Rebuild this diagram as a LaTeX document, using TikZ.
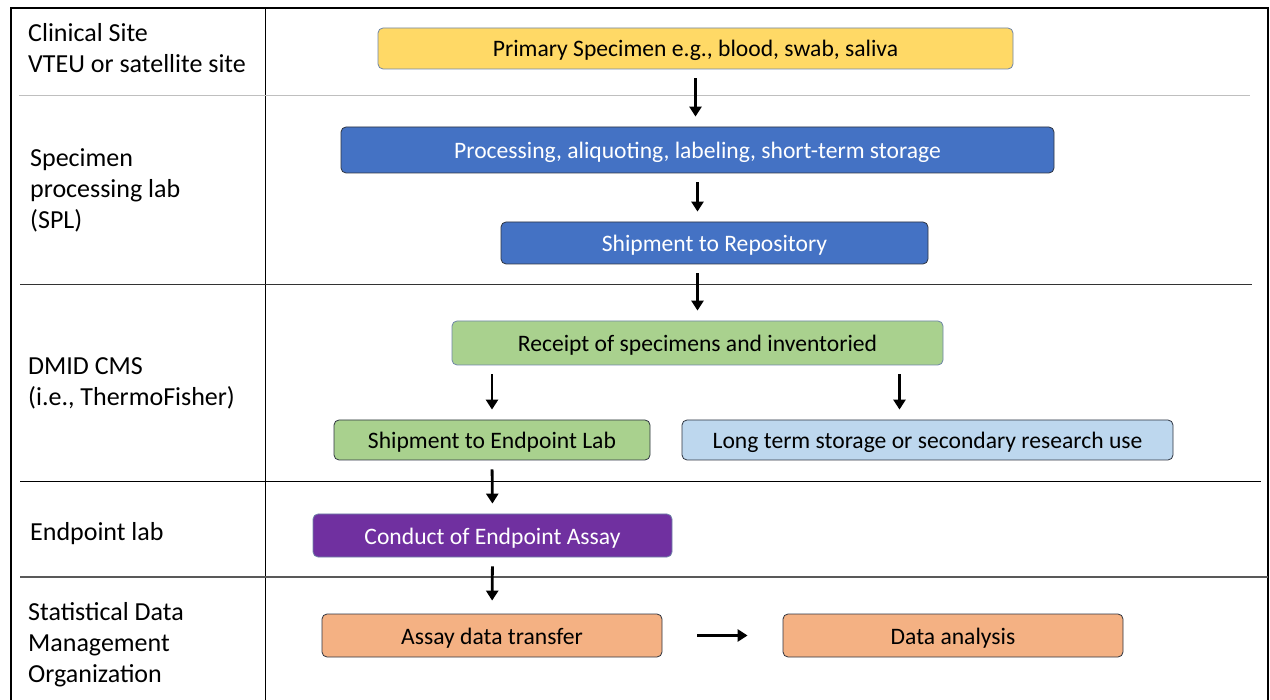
\documentclass[tikz,border=0pt]{standalone}
\usepackage{fontspec}
\setmainfont{Carlito}
\usepackage{xcolor}
\definecolor{specyellow}{HTML}{FFD966}
\definecolor{splblue}{HTML}{4472C4}
\definecolor{cmsgreen}{HTML}{A9D18E}
\definecolor{storeblue}{HTML}{BDD7EE}
\definecolor{labpurple}{HTML}{7030A0}
\definecolor{sdmcorange}{HTML}{F4B183}
\definecolor{edgeblue}{HTML}{6F86A8}
\definecolor{edgedark}{HTML}{2E3440}
\usetikzlibrary{arrows.meta, positioning}

\begin{document}
\begin{tikzpicture}[x=1pt, y=-1pt,
    box/.style={draw=edgedark, rounded corners=5pt, line width=0.8pt, inner sep=0pt,
                text height=19pt, text depth=2pt,
                font=\fontsize{23.6}{28}\selectfont},
    flow/.style={-{Triangle[width=12pt,length=10pt]}, line width=2.8pt,
                 shorten <=9pt, shorten >=10pt},
    lane/.style={align=left, anchor=base west, inner sep=0pt,
                 font=\fontsize{26}{31}\selectfont}]
  \useasboundingbox (0,0) rectangle (1270,700);

  % Frame and swimlanes
  \draw[line width=2pt] (11,700) -- (11,8) -- (1268,8) -- (1268,700);
  \draw[line width=1pt] (265,8) -- (265,700);
  \draw[black!25, line width=1pt] (19,96) -- (1250,96);
  \draw[black!80, line width=1pt] (20,285) -- (1252,285);
  \draw[line width=1pt] (20,482) -- (1261,482);
  \draw[black!65, line width=1.6pt] (20,577) -- (1268,577);

  % Lane names (placed by the baseline of the last line)
  \node[lane] (site) at (28,73) {Clinical Site\\VTEU or satellite site};
  \node[lane] (spl) at (30,229) {Specimen\\processing lab\\(SPL)};
  \node[lane] (cms) at (28,406) {DMID CMS\\(i.e., ThermoFisher)};
  \node[lane] (elab) at (30,540) {Endpoint lab};
  \node[lane] (sdmc) at (28,682) {Statistical Data\\Management\\Organization};

  % Steps
  \node[box, draw=edgeblue, fill=specyellow, minimum width=635pt, minimum height=41pt]
    (primary) at (695.5,48.5) {Primary Specimen e.g., blood, swab, saliva};
  \node[box, fill=splblue, text=white, minimum width=713pt, minimum height=46pt]
    (process) at (697.5,150) {Processing, aliquoting, labeling, short-term storage};
  \node[box, fill=splblue, text=white, minimum width=427pt, minimum height=42pt]
    (shiprepo) at (714.5,243) {Shipment to Repository};
  \node[box, draw=edgeblue, fill=cmsgreen, minimum width=491pt, minimum height=44pt]
    (receipt) at (697.5,343) {Receipt of specimens and inventoried};
  \node[box, fill=cmsgreen, minimum width=316pt, minimum height=40pt]
    (shipep) at (492,440) {Shipment to Endpoint Lab};
  \node[box, fill=storeblue, minimum width=491pt, minimum height=40pt]
    (storage) at (927.5,440) {Long term storage or secondary research use};
  \node[box, draw=edgeblue, fill=labpurple, text=white, minimum width=359pt, minimum height=43pt]
    (assay) at (492.5,535.5) {Conduct of Endpoint Assay};
  \node[box, fill=sdmcorange, minimum width=340pt, minimum height=43pt]
    (transfer) at (492,635.5) {Assay data transfer};
  \node[box, fill=sdmcorange, minimum width=340pt, minimum height=43pt]
    (analysis) at (953,635.5) {Data analysis};

  % Arrows
  \draw[flow] (primary.south) -- (primary.south |- process.north);
  \draw[flow] (process.south) -- (process.south |- shiprepo.north);
  \draw[flow] (receipt.north |- shiprepo.south) -- (receipt.north);
  \draw[flow] (shipep.north |- receipt.south) -- (shipep.north);
  \draw[flow] ([xshift=-28pt]storage.north |- receipt.south) -- ([xshift=-28pt]storage.north);
  \draw[flow] (shipep.south) -- (assay.north);
  \draw[flow, shorten >=13pt] (assay.south) -- (transfer.north);
  \draw[flow, shorten <=35pt, shorten >=35pt] (transfer.east) -- (analysis.west);
\end{tikzpicture}
\end{document}
